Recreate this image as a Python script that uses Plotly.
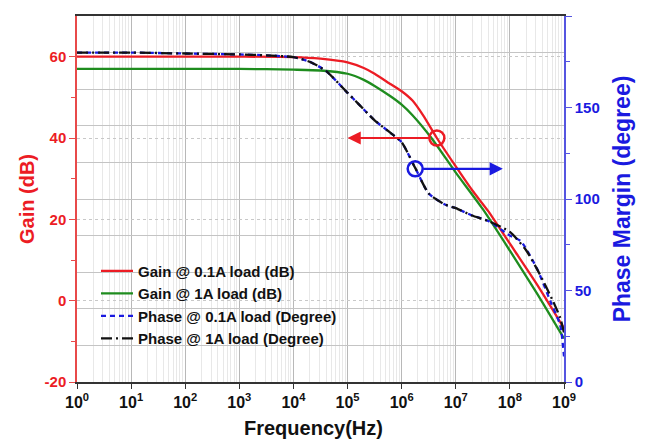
import plotly.graph_objects as go

# ---- data (frequency exponents: log10(Hz)) ----
gain01_exp = [0, 1, 2, 3, 4, 4.5, 5, 5.3, 5.5, 5.8, 6, 6.2, 6.4, 6.65, 7, 7.3, 7.6, 8, 8.5, 9]
gain01_db  = [60, 60, 60, 60, 59.9, 59.5, 58.6, 57.2, 55.8, 53.2, 51.5, 49.2, 45.5, 40, 33, 27.2, 22, 14, 4, -6.8]

gain1_exp = [0, 1, 2, 3, 4, 4.5, 5, 5.3, 5.5, 5.8, 6, 6.2, 6.55, 7, 7.5, 8, 8.5, 9]
gain1_db  = [57, 57, 57, 57, 56.8, 56.6, 55.8, 54.3, 52.8, 50.2, 48.2, 45.6, 40, 31.5, 22.5, 12.3, 1.8, -9.3]

phase01_exp = [0, 1, 2, 3, 3.5, 4, 4.3, 4.6, 5, 5.2, 5.5, 5.8, 6, 6.25, 6.5, 6.8, 7, 7.3, 7.6, 8, 8.2, 8.5, 8.75, 8.93, 9]
phase01_deg = [180, 180, 179.5, 179, 178.5, 177.5, 175, 170, 158, 152, 143, 136, 131, 117, 103, 97, 95, 91, 88, 80, 77, 62, 44, 31, 14]

phase1_exp = [0, 1, 2, 3, 3.5, 4, 4.3, 4.6, 5, 5.2, 5.5, 5.8, 6, 6.25, 6.5, 6.8, 7, 7.3, 7.6, 8, 8.3, 8.55, 8.8, 8.93, 9]
phase1_deg = [180, 180, 179.5, 179, 178.5, 177.5, 175, 170, 158, 152, 143, 136, 131, 117, 103, 97, 95, 91, 88, 82, 72, 59, 44, 35, 27]

decade_ticks = [0, 1, 2, 3, 4, 5, 6, 7, 8, 9]
decade_labels = ["10<sup>%d</sup>" % d for d in decade_ticks]
gain_ticks = [-20, 0, 20, 40, 60]
gain_labels = ["-20", "0", "20", "40", "60"]
phase_ticks = [0, 50, 100, 150, 200]

# annotation markers (log10 freq, value)
gain_mark = (6.65, 40)
gain_arrow_head = 5.0
phase_mark = (6.25, 116.5)
phase_arrow_head = 7.87

RED = "#ec1c24"
GREEN = "#1e8c1e"
BLUE = "#1a1ae0"
BLACK = "#111111"
FONT = "Liberation Sans, Arial, sans-serif"

fig = go.Figure()

def fx(exps):
    return [10 ** e for e in exps]

fig.add_trace(go.Scatter(x=fx(gain01_exp), y=gain01_db, mode="lines", name="Gain @ 0.1A load (dB)",
                         line=dict(color=RED, width=2.3, shape="spline", smoothing=0.6), yaxis="y", legendgroup="a"))
fig.add_trace(go.Scatter(x=fx(gain1_exp), y=gain1_db, mode="lines", name="Gain @ 1A load (dB)",
                         line=dict(color=GREEN, width=2.3, shape="spline", smoothing=0.6), yaxis="y", legendgroup="b"))
fig.add_trace(go.Scatter(x=fx(phase01_exp), y=phase01_deg, mode="lines", name="Phase @ 0.1A load (Degree)",
                         line=dict(color=BLUE, width=2.3, dash="5px,4px", shape="spline", smoothing=0.6), yaxis="y2", legendgroup="c"))
fig.add_trace(go.Scatter(x=fx(phase1_exp), y=phase1_deg, mode="lines", name="Phase @ 1A load (Degree)",
                         line=dict(color=BLACK, width=2.3, dash="11px,4px,2px,4px", shape="spline", smoothing=0.6), yaxis="y2", legendgroup="d"))

# circles
fig.add_trace(go.Scatter(x=[10 ** gain_mark[0]], y=[gain_mark[1]], mode="markers", showlegend=False,
                         marker=dict(symbol="circle-open", size=15, color=RED, line=dict(width=2.5, color=RED)), yaxis="y"))
fig.add_trace(go.Scatter(x=[10 ** phase_mark[0]], y=[phase_mark[1]], mode="markers", showlegend=False,
                         marker=dict(symbol="circle-open", size=15, color=BLUE, line=dict(width=2.5, color=BLUE)), yaxis="y2"))

fig.add_annotation(x=gain_arrow_head, y=gain_mark[1], ax=gain_mark[0] - 0.12, ay=gain_mark[1],
                   xref="x", yref="y", axref="x", ayref="y", text="", showarrow=True,
                   arrowhead=2, arrowsize=1.2, arrowwidth=2.2, arrowcolor=RED)
fig.add_annotation(x=phase_arrow_head, y=phase_mark[1], ax=phase_mark[0] + 0.12, ay=phase_mark[1],
                   xref="x", yref="y2", axref="x", ayref="y2", text="", showarrow=True,
                   arrowhead=2, arrowsize=1.2, arrowwidth=2.2, arrowcolor=BLUE)

# x-axis title placed slightly left of centre, as in the original
fig.add_annotation(text="Frequency(Hz)", xref="paper", yref="paper", x=0.486, y=-0.126,
                   xanchor="center", yanchor="middle", showarrow=False,
                   font=dict(family=FONT, size=20, color=BLACK, weight="bold"))

# hidden grid axis for horizontal lines every 20 degrees
fig.add_trace(go.Scatter(x=[1], y=[None], yaxis="y3", showlegend=False, hoverinfo="skip"))

# page has an 8px body margin, so the figure is sized/margined accordingly
fig.update_layout(
    width=646, height=431,
    margin=dict(l=69, r=90, t=8, b=57),
    paper_bgcolor="white", plot_bgcolor="white",
    font=dict(family=FONT, color=BLACK),
    showlegend=True,
    legend=dict(x=0.039, y=0.348, xanchor="left", yanchor="top", bgcolor="rgba(0,0,0,0)",
                font=dict(family=FONT, size=15, color=BLACK, weight="bold"),
                tracegroupgap=0, traceorder="grouped", itemwidth=32),
    xaxis=dict(type="log", range=[0, 9], tickvals=[10 ** d for d in decade_ticks], ticktext=decade_labels,
               showline=True, linecolor="#333333", linewidth=1.5, mirror=True,
               ticks="outside", ticklen=5, tickcolor="#333333",
               tickfont=dict(family=FONT, size=16, color=BLACK, weight="bold"),
               showgrid=True, gridcolor="#b8b8b8", gridwidth=1,
               minor=dict(showgrid=True, gridcolor="#e8e8e8", ticks="", dtick="D1"),
               automargin=False, zeroline=False),
    yaxis=dict(range=[-20, 70], tickvals=gain_ticks, ticktext=gain_labels,
               showline=True, linecolor="#e84a4a", linewidth=1.5,
               ticks="outside", ticklen=6, tickcolor="#e84a4a",
               minor=dict(tickvals=[-10, 10, 30, 50], ticks="outside", ticklen=4, tickcolor="#e84a4a", showgrid=False),
               tickfont=dict(family=FONT, size=15, color=RED, weight="bold"),
               showgrid=True, gridcolor="#c8c8c8", griddash="dot", gridwidth=1,
               title=dict(text="Gain (dB)", font=dict(family=FONT, size=20, color=RED, weight="bold"), standoff=5),
               automargin=False, zeroline=False),
    yaxis2=dict(range=[0, 200], tickvals=phase_ticks, overlaying="y", side="right",
                showline=True, linecolor="#5555e0", linewidth=1.5,
                ticks="outside", ticklen=6, tickcolor="#5555e0",
                minor=dict(tickvals=[25, 75, 125, 175], ticks="outside", ticklen=4, tickcolor="#5555e0", showgrid=False),
                tickfont=dict(family=FONT, size=15, color=BLUE, weight="bold"),
                showgrid=False,
                title=dict(text="Phase Margin (degree)", font=dict(family=FONT, size=23, color=BLUE, weight="bold"), standoff=15),
                automargin=False, zeroline=False),
    yaxis3=dict(range=[0, 200], dtick=20, overlaying="y", side="right", showticklabels=False, ticks="",
                showgrid=True, gridcolor="#c4c4c4", gridwidth=1, zeroline=False, showline=False,
                automargin=False, layer="below traces"),
)

fig.write_html("out.html")
